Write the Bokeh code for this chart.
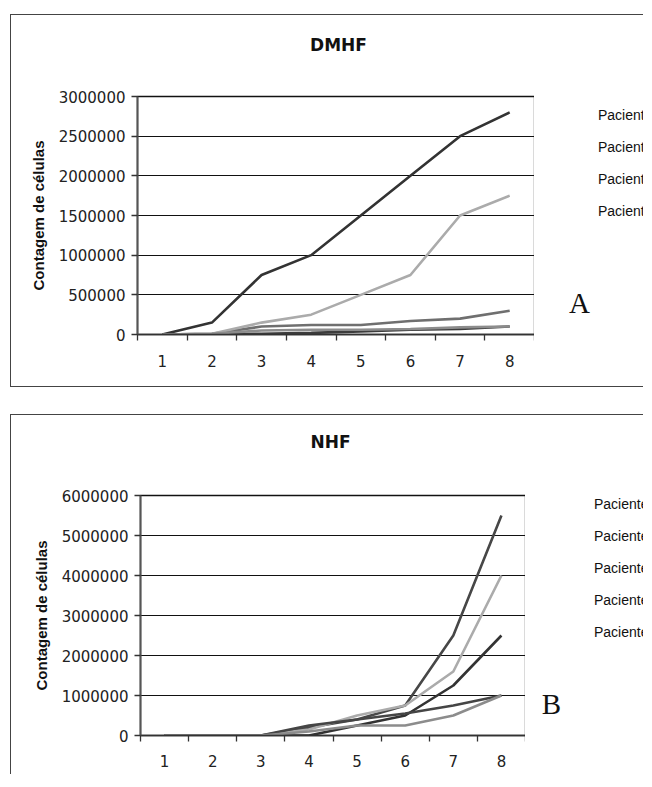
from bokeh.plotting import figure
from bokeh.layouts import column, row
from bokeh.models import (Range1d, FixedTicker, NumeralTickFormatter, Legend, LegendItem, Label)
from bokeh.embed import file_html
from bokeh.resources import INLINE

days = [1, 2, 3, 4, 5, 6, 7, 8]
day_bounds = [0.5, 1.5, 2.5, 3.5, 4.5, 5.5, 6.5, 7.5, 8.5]
series_names = ["Paciente 1", "Paciente 2", "Paciente 3", "Paciente 4", "Paciente 5"]

dmhf_p1 = [0, 10000, 100000, 120000, 120000, 170000, 200000, 300000]
dmhf_p2 = [0, 150000, 750000, 1000000, 1500000, 2000000, 2500000, 2800000]
dmhf_p3 = [0, 10000, 150000, 250000, 500000, 750000, 1500000, 1750000]
dmhf_p4 = [0, 0, 10000, 20000, 40000, 60000, 70000, 100000]
dmhf_p5 = [0, 10000, 50000, 60000, 60000, 70000, 90000, 100000]
dmhf_ticks = [0, 500000, 1000000, 1500000, 2000000, 2500000, 3000000]

nhf_p1 = [0, 0, 0, 200000, 400000, 750000, 2500000, 5500000]
nhf_p2 = [0, 0, 0, 0, 250000, 500000, 1250000, 2500000]
nhf_p3 = [0, 0, 0, 150000, 500000, 750000, 1600000, 4000000]
nhf_p4 = [0, 0, 0, 250000, 400000, 550000, 750000, 1000000]
nhf_p5 = [0, 0, 0, 100000, 250000, 250000, 500000, 1000000]
nhf_ticks = [0, 1000000, 2000000, 3000000, 4000000, 5000000, 6000000]

dmhf_colors = ["#6f6f6f", "#333333", "#ababab", "#3c3c3c", "#8c8c8c"]
nhf_colors = ["#474747", "#333333", "#ababab", "#454545", "#8c8c8c"]

TICK_FONT = "DejaVu Sans"
LEG_FONT = "Liberation Sans"
BORDER = "1px solid #444"


def blank_fig(w, h):
    f = figure(width=w, height=h, output_backend="svg", toolbar_location=None,
               x_axis_type=None, y_axis_type=None,
               x_range=Range1d(0, w), y_range=Range1d(h, 0),
               min_border_left=0, min_border_right=0, min_border_top=0, min_border_bottom=0)
    f.outline_line_color = None
    f.background_fill_color = "white"
    f.border_fill_color = "white"
    return f


def make_panel(title, title_x, title_y, series, colors, yticks, ymax,
               letter, letter_x, letter_y,
               total_w, title_h, chart_h, bl, bt, bb, frame_w,
               leg_loc, glyph_w, standoff_leg, xlab_standoff, margin, border_bottom):
    # title strip
    tf = blank_fig(total_w, title_h)
    tf.styles = {"border-left": BORDER, "border-top": BORDER}
    tf.add_layout(Label(x=title_x, y=title_y, text=title, text_font="DejaVu Sans",
                        text_font_size="17px", text_font_style="bold", text_color="#111111",
                        text_align="center", text_baseline="middle"))

    chart_w = bl + frame_w + 1
    p = figure(width=chart_w, height=chart_h, output_backend="svg", toolbar_location=None,
               x_range=Range1d(0.5, 8.5), y_range=Range1d(0, ymax),
               min_border_left=bl, min_border_right=1, min_border_top=bt,
               min_border_bottom=bb)
    st = {"border-left": BORDER}
    if border_bottom:
        st["border-bottom"] = BORDER
    p.styles = st
    p.outline_line_color = "#111111"
    p.outline_line_width = 1.3
    p.background_fill_color = "white"
    p.border_fill_color = "white"

    p.xgrid.visible = False
    p.ygrid.ticker = FixedTicker(ticks=yticks)
    p.ygrid.grid_line_color = "#111111"
    p.ygrid.grid_line_width = 1.2

    xa = p.xaxis[0]
    xa.ticker = FixedTicker(ticks=days, minor_ticks=day_bounds)
    xa.major_tick_out = 0
    xa.major_tick_in = 0
    xa.minor_tick_out = 6
    xa.minor_tick_in = 0
    xa.minor_tick_line_color = "#333333"
    xa.minor_tick_line_width = 1.3
    xa.axis_line_color = "#333333"
    xa.axis_line_width = 1.5
    xa.major_label_standoff = xlab_standoff
    xa.major_label_text_font = TICK_FONT
    xa.major_label_text_font_size = "15px"
    xa.major_label_text_color = "#222222"

    ya = p.yaxis[0]
    ya.ticker = FixedTicker(ticks=yticks)
    ya.formatter = NumeralTickFormatter(format="0")
    ya.major_tick_out = 6
    ya.major_tick_in = 0
    ya.minor_tick_line_color = None
    ya.major_tick_line_color = "#333333"
    ya.major_tick_line_width = 1.3
    ya.axis_line_color = "#555555"
    ya.axis_line_width = 2
    ya.major_label_standoff = 6
    ya.major_label_text_font = TICK_FONT
    ya.major_label_text_font_size = "15px"
    ya.major_label_text_color = "#222222"
    ya.axis_label = "Contagem de células"
    ya.axis_label_text_font = "Liberation Sans"
    ya.axis_label_text_font_style = "bold"
    ya.axis_label_text_font_size = "15px"
    ya.axis_label_text_color = "#111111"
    ya.axis_label_standoff = 9

    for vals, col in zip(series, colors):
        p.line(days, vals, line_color=col, line_width=2.6)

    # side strip with legend and panel letter
    side_w = total_w - chart_w
    sf = blank_fig(side_w, chart_h)
    if border_bottom:
        sf.styles = {"border-bottom": BORDER}
    items = []
    for name, col in zip(series_names, colors):
        r = sf.line(x=[], y=[], line_color=col, line_width=2.6)
        items.append(LegendItem(label=name, renderers=[r]))
    leg = Legend(items=items, location=leg_loc, glyph_width=glyph_w, glyph_height=20,
                 label_height=20, spacing=12, padding=0, margin=0,
                 label_standoff=standoff_leg, border_line_color=None,
                 background_fill_alpha=0, label_text_font=LEG_FONT,
                 label_text_font_size="14px", label_text_color="#111111")
    sf.add_layout(leg)
    sf.add_layout(Label(x=letter_x, y=letter_y, text=letter, text_font="Liberation Serif",
                        text_font_size="29px", text_color="#111111", text_align="center",
                        text_baseline="alphabetic"))

    panel = column(tf, row(p, sf))
    panel.margin = margin
    return panel


top = make_panel("DMHF", 327, 29, [dmhf_p1, dmhf_p2, dmhf_p3, dmhf_p4, dmhf_p5], dmhf_colors,
                 dmhf_ticks, 3000000, "A", 45, 272,
                 633, 60, 313, 126, 22, 53, 397,
                 (27, 113), 34, 3, 14, (14, 0, 0, 10), True)
bottom = make_panel("NHF", 319, 26, [nhf_p1, nhf_p2, nhf_p3, nhf_p4, nhf_p5], nhf_colors,
                    nhf_ticks, 6000000, "B", 26, 260,
                    633, 60, 300, 129, 21, 39, 385,
                    (28, 93), 35, 6, 13, (27, 0, 0, 10), False)

layout = column(top, bottom)
open("out.html", "w").write(file_html(layout, INLINE))
